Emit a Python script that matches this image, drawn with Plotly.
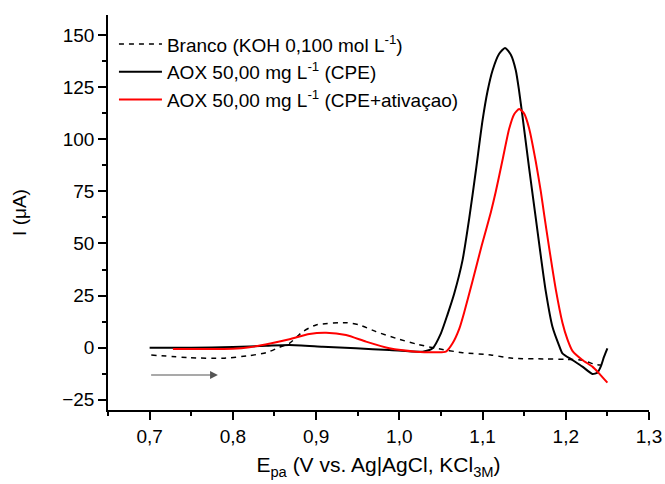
import plotly.graph_objects as go

# Branco (KOH 0,100 mol L-1) - dashed black
blank_x = [0.702, 0.748, 0.788, 0.820, 0.840, 0.856, 0.868, 0.884, 0.900, 0.936, 0.952,
           0.972, 0.996, 1.020, 1.044, 1.076, 1.110, 1.136, 1.176, 1.200, 1.220, 1.235, 1.242]
blank_y = [-3.5, -4.8, -5.1, -3.8, -2.4, 0.2, 2.1, 7.7, 10.9, 12.0, 10.9,
           7.7, 4.5, 1.8, -0.3, -2.4, -3.5, -5.1, -5.4, -5.6, -6.0, -8.0, -8.3]

# AOX 50,00 mg L-1 (CPE) - black
cpe_x = [0.700, 0.750, 0.800, 0.840, 0.868, 0.908, 0.948, 0.988, 1.028, 1.040, 1.050,
         1.058, 1.066, 1.076, 1.084, 1.092, 1.100, 1.106, 1.112, 1.120, 1.127, 1.134,
         1.140, 1.144, 1.148, 1.156, 1.164, 1.170, 1.176, 1.184, 1.192, 1.196, 1.208,
         1.220, 1.232, 1.238, 1.242, 1.246, 1.250]
cpe_y = [0.0, 0.0, 0.3, 0.9, 1.3, 0.5, -0.3, -1.1, -1.9, -0.3, 6.9,
         16.0, 26.0, 42.0, 62.0, 85.0, 109.0, 123.0, 133.0, 141.0, 143.8, 140.5,
         133.0, 123.0, 111.0, 86.0, 62.0, 44.0, 27.0, 10.0, 1.0, -2.7, -5.9,
         -9.1, -12.6, -12.0, -9.1, -4.3, -0.3]

# AOX 50,00 mg L-1 (CPE+ativacao) - red
act_x = [0.728, 0.760, 0.800, 0.820, 0.845, 0.868, 0.892, 0.912, 0.936, 0.960, 0.988,
         1.020, 1.044, 1.056, 1.064, 1.072, 1.078, 1.088, 1.099, 1.110, 1.116, 1.124,
         1.132, 1.138, 1.144, 1.150, 1.156, 1.164, 1.170, 1.174, 1.180, 1.188, 1.196,
         1.202, 1.208, 1.220, 1.232, 1.240, 1.250]
act_y = [-0.6, -0.6, -0.5, 0.2, 2.0, 4.0, 6.6, 7.2, 6.1, 2.9, -0.3,
         -1.9, -2.2, -1.9, 2.1, 9.0, 17.0, 32.0, 49.0, 65.0, 75.0, 90.0,
         105.0, 112.0, 114.5, 112.3, 105.2, 89.2, 75.0, 64.0, 48.0, 28.0, 12.0,
         4.0, -1.5, -5.9, -9.1, -12.3, -16.8]

# sweep direction arrow (data coordinates)
arrow_x = [0.700, 0.782]
arrow_y = [-13.1, -13.1]

names = ["Branco (KOH 0,100 mol L<sup>-1</sup>)",
         "AOX 50,00 mg L<sup>-1</sup> (CPE)",
         "AOX 50,00 mg L<sup>-1</sup> (CPE+ativaçao)"]

FONT = "Liberation Sans, Arial, sans-serif"

fig = go.Figure()
fig.add_trace(go.Scatter(x=blank_x, y=blank_y, mode="lines", name=names[0],
                         line=dict(color="black", width=1.5, dash="5px,5px", shape="spline", smoothing=0.6)))
fig.add_trace(go.Scatter(x=cpe_x, y=cpe_y, mode="lines", name=names[1],
                         line=dict(color="black", width=2, shape="spline", smoothing=0.6)))
fig.add_trace(go.Scatter(x=act_x, y=act_y, mode="lines", name=names[2],
                         line=dict(color="#ff0000", width=2, shape="spline", smoothing=0.6)))

fig.add_annotation(x=arrow_x[1], y=arrow_y[1], ax=arrow_x[0], ay=arrow_y[0],
                   xref="x", yref="y", axref="x", ayref="y", text="",
                   showarrow=True, arrowhead=2, arrowsize=1.3, arrowwidth=1.2,
                   arrowcolor="#555555")

fig.update_layout(
    width=665, height=484,
    margin=dict(l=108, r=16, t=15, b=74),
    paper_bgcolor="white", plot_bgcolor="white",
    font=dict(family=FONT, color="black", size=19),
    separators=",.",
    showlegend=True,
    legend=dict(x=0.011, y=0.974, xanchor="left", yanchor="top",
                font=dict(size=19, family=FONT), bgcolor="rgba(0,0,0,0)",
                itemwidth=43, tracegroupgap=0),
    xaxis=dict(range=[0.65, 1.3], tick0=0.7, dtick=0.1, tickformat=".1f",
               automargin=False,
               showline=True, linecolor="black", linewidth=1.5,
               ticks="outside", ticklen=8, tickwidth=1.5, tickcolor="black",
               minor=dict(dtick=0.05, tick0=0.65, ticks="outside", ticklen=4,
                          tickwidth=1.5, tickcolor="black"),
               showgrid=False, zeroline=False, mirror=False,
               tickfont=dict(size=19),
               title=dict(text="E<sub>pa</sub> (V vs. Ag|AgCl, KCl<sub>3M</sub>)",
                          font=dict(size=21), standoff=12)),
    yaxis=dict(range=[-29.9, 159.6], tick0=0, dtick=25,
               automargin=False,
               showline=True, linecolor="black", linewidth=1.5,
               ticks="outside", ticklen=8, tickwidth=1.5, tickcolor="black",
               minor=dict(dtick=12.5, tick0=0, ticks="outside", ticklen=4,
                          tickwidth=1.5, tickcolor="black"),
               showgrid=False, zeroline=False, mirror=False,
               tickfont=dict(size=19),
               title=dict(text="I (μA)", font=dict(size=19), standoff=31)),
)

fig.write_html("out.html", config={"displayModeBar": False},
               post_script="document.body.style.margin='0';")
